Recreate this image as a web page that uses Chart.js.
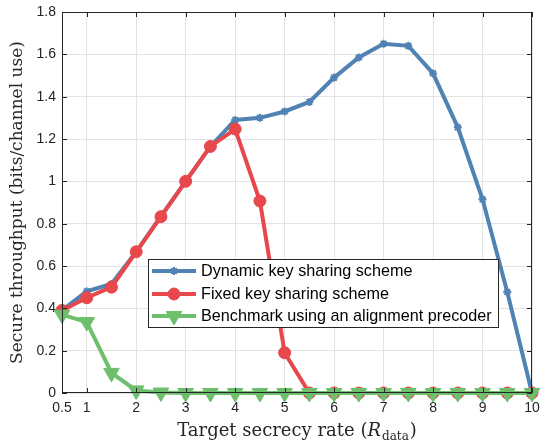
<!DOCTYPE html>
<html><head><meta charset="utf-8">
<script src="https://cdn.jsdelivr.net/npm/chart.js@4/dist/chart.umd.min.js"></script>
<style>html,body{margin:0;padding:0;background:#fff}#wrap{width:542px;height:442px}</style>
</head><body><div id="wrap"><canvas id="c" width="542" height="442"></canvas></div>
<script>
const xValues = [0.5,1,1.5,2,2.5,3,3.5,4,4.5,5,5.5,6,6.5,7,7.5,8,8.5,9,9.5,10];
const dynamicKey = [0.39,0.48,0.515,0.667,0.835,1.0,1.165,1.29,1.30,1.33,1.375,1.49,1.585,1.65,1.64,1.51,1.255,0.915,0.477,0];
const fixedKey = [0.39,0.45,0.50,0.667,0.833,1.0,1.165,1.247,0.907,0.19,0,0,0,0,0,0,0,0,0,0];
const benchmark = [0.37,0.335,0.095,0.012,0.002,0,0,0,0,0,0,0,0,0,0,0,0,0,0,0];
const seriesLabels = ['Dynamic key sharing scheme','Fixed key sharing scheme','Benchmark using an alignment precoder'];
const xTicks = [0.5,1,2,3,4,5,6,7,8,9,10];
const yTicks = [0,0.2,0.4,0.6,0.8,1,1.2,1.4,1.6,1.8];

const BLUE = '#5083b3', RED = '#e8474b', GREEN = '#6dbf6b';
const pts = arr => arr.map((v,i)=>({x:xValues[i], y:v}));
const tickFont = {family:'Liberation Sans, Arial, sans-serif', size:14};

const overlay = {
  id:'overlay',
  afterDraw(chart){
    const ctx = chart.ctx, a = chart.chartArea, xs = chart.scales.x, ys = chart.scales.y;
    ctx.save();
    ctx.strokeStyle = '#262626'; ctx.lineWidth = 1;
    ctx.strokeRect(Math.round(a.left)+0.5, Math.round(a.top)+0.5, Math.round(a.right-a.left)-1, Math.round(a.bottom-a.top)-1);
    const L = 5;
    ctx.beginPath();
    xTicks.forEach(v=>{ const px = Math.round(xs.getPixelForValue(v))+0.5;
      ctx.moveTo(px,a.bottom); ctx.lineTo(px,a.bottom-L); ctx.moveTo(px,a.top); ctx.lineTo(px,a.top+L); });
    yTicks.forEach(v=>{ const py = Math.round(ys.getPixelForValue(v))+0.5;
      ctx.moveTo(a.left,py); ctx.lineTo(a.left+L,py); ctx.moveTo(a.right,py); ctx.lineTo(a.right-L,py); });
    ctx.stroke();

    // legend
    const lx=148, ly=259, lw=350, lh=68;
    ctx.fillStyle='#fff'; ctx.fillRect(lx,ly,lw,lh);
    ctx.strokeStyle='#262626'; ctx.strokeRect(lx+0.5,ly+0.5,lw,lh);
    const rowsY=[271,294,316];
    chart.data.datasets.forEach((ds,i)=>{
      const y=rowsY[i];
      ctx.strokeStyle=ds.borderColor; ctx.lineWidth=4;
      ctx.beginPath(); ctx.moveTo(152,y); ctx.lineTo(196,y); ctx.stroke();
      ctx.fillStyle=ds.pointBackgroundColor; ctx.strokeStyle=ds.borderColor; ctx.lineWidth=ds.pointBorderWidth;
      Chart.helpers.drawPoint(ctx,{pointStyle:ds.pointStyle,radius:ds.pointRadius,borderWidth:ds.pointBorderWidth,rotation:ds.pointRotation||0},174,y);
      ctx.fillStyle='#000'; ctx.font='16.2px "Liberation Sans", Arial, sans-serif'; ctx.textBaseline='middle'; ctx.textAlign='left';
      ctx.fillText(ds.label,201,y+1);
    });

    // x title with subscript
    ctx.fillStyle='#262626'; ctx.textBaseline='alphabetic';
    const f1='18px "DejaVu Serif", serif', f2='italic 18px "DejaVu Serif", serif', f3='12px "DejaVu Serif", serif';
    const p1='Target secrecy rate (', p2='R', p3='data', p4=')';
    ctx.font=f1; const w1=ctx.measureText(p1).width, w4=ctx.measureText(p4).width;
    ctx.font=f2; const w2=ctx.measureText(p2).width;
    ctx.font=f3; const w3=ctx.measureText(p3).width;
    let x = (a.left+a.right)/2 - (w1+w2+w3+w4+2)/2; const by=436;
    ctx.textAlign='left';
    ctx.font=f1; ctx.fillText(p1,x,by); x+=w1;
    ctx.font=f2; ctx.fillText(p2,x,by); x+=w2+1;
    ctx.font=f3; ctx.fillText(p3,x,by+4); x+=w3+1;
    ctx.font=f1; ctx.fillText(p4,x,by);
    ctx.restore();
  }
};

new Chart(document.getElementById('c'),{
  type:'line',
  data:{datasets:[
    {label:seriesLabels[0],data:pts(dynamicKey),borderColor:BLUE,backgroundColor:BLUE,pointBackgroundColor:BLUE,pointBorderColor:BLUE,borderWidth:4,pointStyle:'star',pointRadius:4,pointBorderWidth:2,order:2,clip:false},
    {label:seriesLabels[1],data:pts(fixedKey),borderColor:RED,backgroundColor:RED,pointBackgroundColor:RED,pointBorderColor:RED,borderWidth:4,pointStyle:'circle',pointRadius:6,pointBorderWidth:1,order:1,clip:false},
    {label:seriesLabels[2],data:pts(benchmark),borderColor:GREEN,backgroundColor:GREEN,pointBackgroundColor:GREEN,pointBorderColor:GREEN,borderWidth:4,pointStyle:'triangle',pointRotation:180,pointRadius:9,pointBorderWidth:1,order:0,clip:false}
  ]},
  options:{
    responsive:false, animation:false, devicePixelRatio:1,
    layout:{padding:{left:0,right:10,top:12,bottom:0}},
    plugins:{legend:{display:false},tooltip:{enabled:false}},
    elements:{line:{tension:0}},
    scales:{
      x:{type:'linear',min:0.5,max:10,
        afterBuildTicks:s=>{s.ticks=xTicks.map(v=>({value:v}));},
        afterFit:s=>{s.height=49; s.paddingLeft=0; s.paddingRight=0;},
        ticks:{font:tickFont,color:'#262626',padding:7,autoSkip:false,maxRotation:0,callback:v=>String(v)},
        grid:{color:'#e3e3e3',drawTicks:false},border:{display:false}},
      y:{type:'linear',min:0,max:1.8,
        afterBuildTicks:s=>{s.ticks=yTicks.map(v=>({value:v}));},
        afterFit:s=>{s.width=62; s.paddingTop=0; s.paddingBottom=0;},
        ticks:{font:tickFont,color:'#262626',padding:6,callback:v=>String(Math.round(v*10)/10)},
        grid:{color:'#e3e3e3',drawTicks:false},border:{display:false},
        title:{display:true,text:'Secure throughput (bits/channel use)',font:{family:'DejaVu Serif, serif',size:17},color:'#262626',padding:{top:7,bottom:0}}}
    }
  },
  plugins:[overlay]
});
</script></body></html>
